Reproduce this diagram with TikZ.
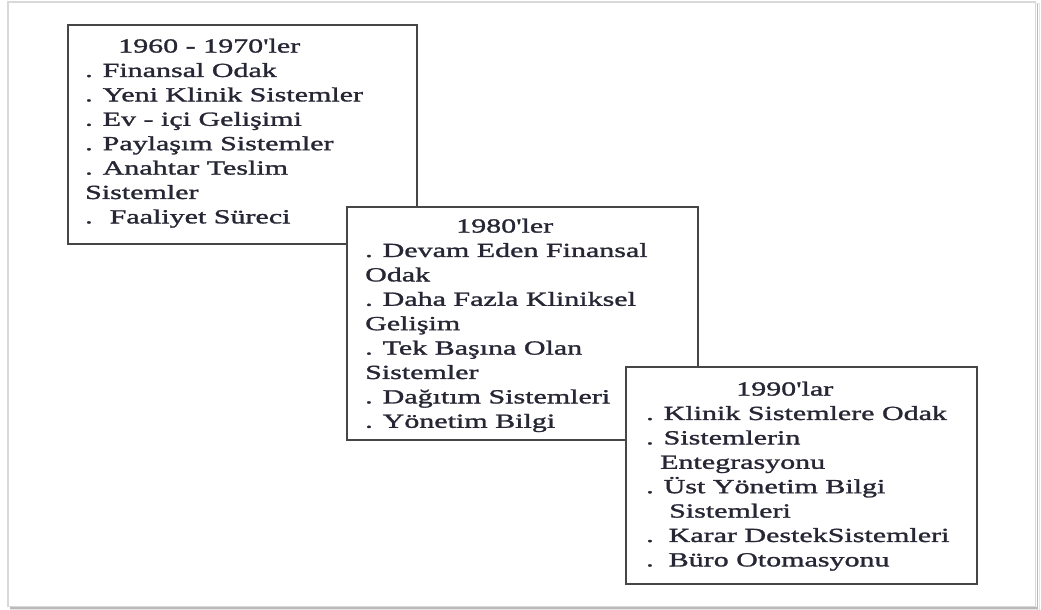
\documentclass[tikz,border=0pt]{standalone}
\usepackage{fontspec}
% wide serif face for the period lists
\newfontfamily\boxfont{Liberation Serif}[FakeStretch=1.5,FakeBold=1.4,Ligatures=TeXOff]
\definecolor{ink}{RGB}{38,38,52}
\definecolor{boxline}{RGB}{70,70,70}
\begin{document}
\begin{tikzpicture}[x=1pt,y=-1pt,
  periodbox/.style={draw=boxline, line width=1.6pt, fill=white, rectangle,
    inner sep=0pt, anchor=north west},
  listtext/.style={anchor=north west, inner sep=0pt, align=left, text=ink,
    font=\boxfont\fontsize{20}{24.4}\selectfont},
]
\useasboundingbox (0,0) rectangle (1041,610);

% outer frame with a soft shadow on the right and bottom
\draw[gray!20, line width=1pt] (1036,4) -- (1039.5,4) -- (1039.5,609.5) -- (10,609.5);
\draw[gray!55, line width=1.4pt] (1037.3,4) -- (1037.3,607.8) -- (10,607.8);
\draw[gray!30, line width=1.2pt, fill=white] (8,2) rectangle (1035.5,606.3);

% 1960 - 1970'ler
\node[periodbox, minimum width=349pt, minimum height=219pt] (b1) at (67,24) {};
\node[listtext] (t1) at (85,38.5) {%
\hspace*{33pt}1960 - 1970'ler\\
. Finansal Odak\\
. Yeni Klinik Sistemler\\
. Ev - içi Gelişimi\\
. Paylaşım Sistemler\\
. Anahtar Teslim\\
Sistemler\\
.\hspace{17pt}Faaliyet Süreci};

% 1980'ler
\node[periodbox, minimum width=351pt, minimum height=233pt] (b2) at (346,206) {};
\node[listtext] (t2) at (365,218.5) {%
\hspace*{91pt}1980'ler\\
. Devam Eden Finansal\\
Odak\\
. Daha Fazla Kliniksel\\
Gelişim\\
. Tek Başına Olan\\
Sistemler\\
. Dağıtım Sistemleri\\
. Yönetim Bilgi};

% 1990'lar
\node[periodbox, minimum width=351pt, minimum height=217pt] (b3) at (625,366) {};
\node[listtext] (t3) at (646,381.5) {%
\hspace*{90pt}1990'lar\\
. Klinik Sistemlere Odak\\
. Sistemlerin\\
\hspace*{14pt}Entegrasyonu\\
. Üst Yönetim Bilgi\\
\hspace*{23pt}Sistemleri\\
.\hspace{15pt}Karar DestekSistemleri\\
.\hspace{15pt}Büro Otomasyonu};
\end{tikzpicture}
\end{document}
